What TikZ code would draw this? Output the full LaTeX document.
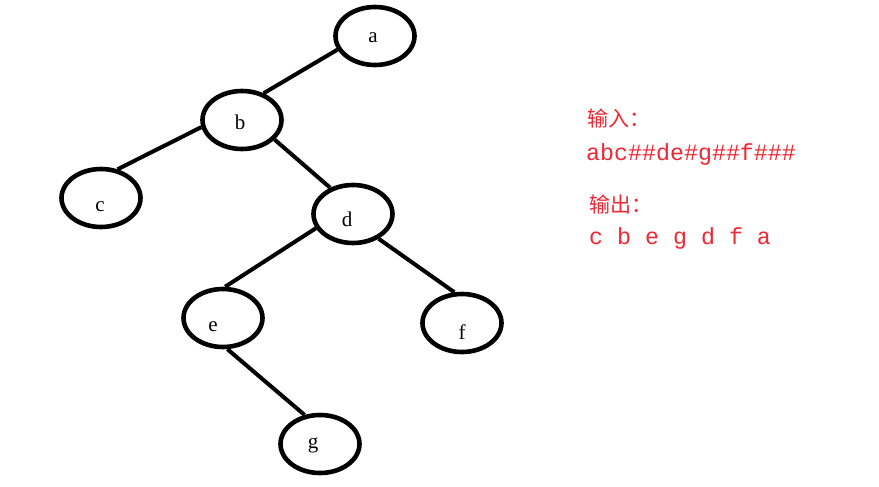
\documentclass[tikz,border=0pt]{standalone}
\usepackage{fontspec}
\setmainfont{Liberation Serif}
\newfontfamily\cjk{Noto Sans CJK SC}
\newfontfamily\monof{Liberation Mono}
\usetikzlibrary{shapes.geometric}
\definecolor{txtred}{RGB}{238,40,52}
\tikzset{
  tnode/.style={ellipse, draw=black, line width=4.6pt, minimum width=79pt, minimum height=58pt, inner sep=0pt},
  edge/.style={line width=4pt},
  lbl/.style={font=\fontsize{21}{23}\selectfont, text=black, inner sep=0pt},
  redtxt/.style={text=txtred, anchor=west, inner sep=0pt}
}
\begin{document}
\begin{tikzpicture}[x=1pt,y=-1pt]
\useasboundingbox[fill=white] (0,0) rectangle (879,487);
\node[tnode] (a) at (375,36) {};
\node[tnode] (b) at (242,120) {};
\node[tnode] (c) at (101,198) {};
\node[tnode] (d) at (353,214) {};
\node[tnode] (e) at (223,318) {};
\node[tnode] (f) at (462,323) {};
\node[tnode] (g) at (320,444) {};
\draw[edge] (a.200) -- (b.51);
\draw[edge] (b.190) -- (c.60);
\draw[edge] (b.329) -- (d.131);
\draw[edge] (d.201) -- (e.86);
\draw[edge] (d.316) -- (f.104);
\draw[edge] (e.278) -- (g.118);
\node[lbl] (la) at (373,38) {a};
\node[lbl] (lb) at (240,122) {b};
\node[lbl] (lc) at (100,207) {c};
\node[lbl] (ld) at (347,219) {d};
\node[lbl] (le) at (213,327) {e};
\node[lbl] (lf) at (462,332) {f};
\node[lbl] (lg) at (313,445) {g};
\node[redtxt, font=\cjk\fontsize{21}{23}\selectfont] (in) at (587,118) {输入：};
\node[redtxt, font=\monof\fontsize{23.3}{25}\selectfont] (ins) at (586,154) {abc\#\#de\#g\#\#f\#\#\#};
\node[redtxt, font=\cjk\fontsize{21}{23}\selectfont] (out) at (589,204) {输出：};
\node[redtxt, font=\monof\fontsize{23.3}{25}\selectfont] (outs) at (589,238) {c b e g d f a};
\end{tikzpicture}
\end{document}
